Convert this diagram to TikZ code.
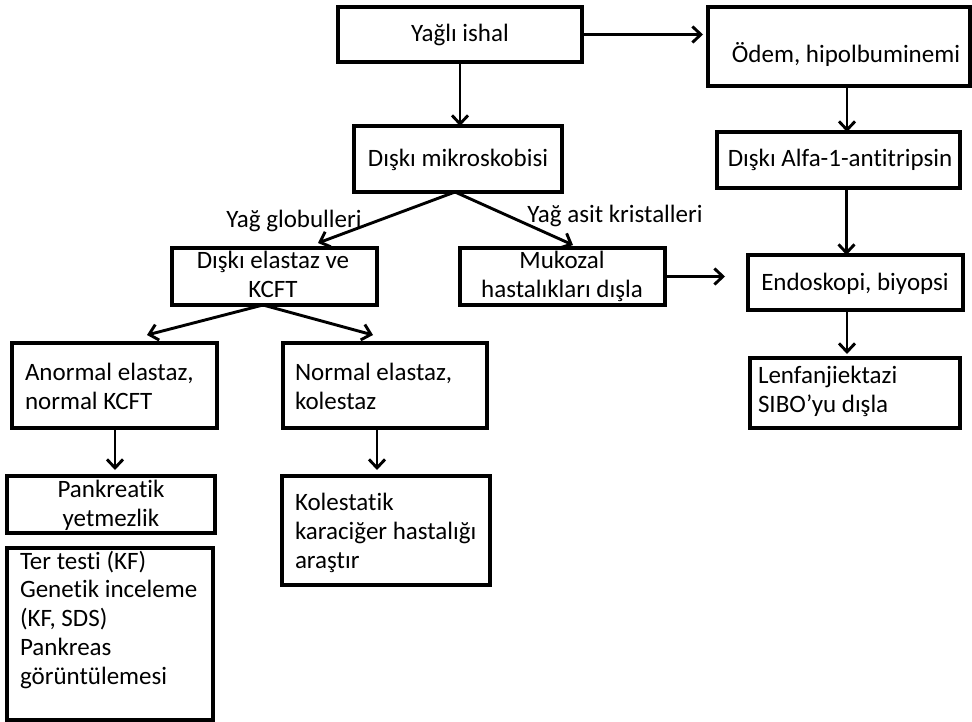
\documentclass[tikz,border=0pt]{standalone}
\usepackage{fontspec}
\setmainfont{Carlito}[Ligatures=NoCommon]
\usetikzlibrary{arrows.meta}
\begin{document}
\begin{tikzpicture}[x=1pt,y=-1pt,
  box/.style={draw, line width=3.2pt, inner sep=0pt, outer sep=0pt},
  txt/.style={inner sep=0pt, outer sep=0pt, font=\fontsize{25}{28.7}\selectfont},
  arr/.style={line width=2.9pt, -{Straight Barb[length=8.5pt,width=16pt]}},
]
\fill[white] (0,0) rectangle (972,722);
\useasboundingbox (0,0) rectangle (972,722);

% boxes
\node[box, minimum width=244, minimum height=55]  (ishal)   at (460,34.5)  {};
\node[box, minimum width=262, minimum height=79]  (odem)    at (839,46.5)  {};
\node[box, minimum width=208, minimum height=66]  (micro)   at (458,159)   {};
\node[box, minimum width=243, minimum height=56]  (alfa)    at (838.5,160) {};
\node[box, minimum width=205, minimum height=57]  (elastaz) at (274.5,276.5) {};
\node[box, minimum width=205, minimum height=57]  (mukozal) at (562.5,276.5) {};
\node[box, minimum width=215, minimum height=55]  (endo)    at (855.5,282.5) {};
\node[box, minimum width=210, minimum height=70]  (lenf)    at (855,393)   {};
\node[box, minimum width=205, minimum height=85]  (anormal) at (114.5,385.5) {};
\node[box, minimum width=204, minimum height=85]  (normal)  at (385,385.5) {};
\node[box, minimum width=208, minimum height=57]  (pank)    at (111,504.5) {};
\node[box, minimum width=206, minimum height=172] (ter)     at (110,634)   {};
\node[box, minimum width=208, minimum height=109] (kol)     at (386,530.5) {};

% texts (multi-line nodes are placed by the baseline of their last line)
\node[txt, anchor=base] (t-ishal) at (460,42) {Yağlı ishal};
\node[txt, anchor=base] (t-odem) at (846,63) {Ödem, hipolbuminemi};
\node[txt, anchor=base] (t-micro) at (458,167) {Dışkı mikroskobisi};
\node[txt, anchor=base] (t-alfa) at (840,167) {Dışkı Alfa-1-antitripsin};
\node[txt, anchor=base, align=center] (t-elastaz) at (273,297) {Dışkı elastaz ve\\KCFT};
\node[txt, anchor=base, align=center] (t-mukozal) at (562,297) {Mukozal\\hastalıkları dışla};
\node[txt, anchor=base] (t-endo) at (855,290) {Endoskopi, biyopsi};
\node[txt, anchor=base west, align=left] (t-lenf) at (758,412) {Lenfanjiektazi\\SIBO’yu dışla};
\node[txt, anchor=base west, align=left] (t-anormal) at (25,409) {Anormal elastaz,\\normal KCFT};
\node[txt, anchor=base west, align=left] (t-normal) at (295,409) {Normal elastaz,\\kolestaz};
\node[txt, anchor=base, align=center] (t-pank) at (111,526) {Pankreatik\\yetmezlik};
\node[txt, anchor=base west, align=left] (t-ter) at (20,684) {Ter testi (KF)\\Genetik inceleme\\(KF, SDS)\\Pankreas\\görüntülemesi};
\node[txt, anchor=base west, align=left] (t-kol) at (295,568) {Kolestatik\\karaciğer hastalığı\\araştır};

% branch labels
\node[txt, anchor=base] (l-glob) at (294,228) {Yağ globulleri};
\node[txt, anchor=base] (l-asit) at (615,223) {Yağ asit kristalleri};

% connectors
\draw[arr, shorten >=5pt] (ishal.east) -- (ishal.east -| odem.west);
\draw[arr] (ishal.south) -- (ishal.south |- micro.north);
\draw[arr] ([xshift=8pt]odem.south) -- ([xshift=8pt]odem.south |- alfa.north);
\draw[arr] ([xshift=8pt]alfa.south) -- ([xshift=8pt]alfa.south |- endo.north);
\draw[arr, shorten >=4pt] ([xshift=-8.5pt]endo.south) -- ([xshift=-8.5pt]endo.south |- lenf.north);
\draw[arr] ([xshift=-3pt]micro.south) -- ([xshift=43.5pt,yshift=5pt]elastaz.north);
\draw[arr] ([xshift=-3pt]micro.south) -- ([xshift=10.5pt,yshift=3pt]mukozal.north);
\draw[arr, shorten >=23pt] (mukozal.east) -- (mukozal.east -| endo.west);
\draw[arr] ([xshift=-11.5pt]elastaz.south) -- ([xshift=32.5pt,yshift=8pt]anormal.north);
\draw[arr] ([xshift=-11.5pt]elastaz.south) -- ([xshift=-12pt,yshift=8pt]normal.north);
\draw[arr, shorten >=6pt] ([xshift=0.5pt]anormal.south) -- ([xshift=0.5pt]anormal.south |- pank.north);
\draw[arr, shorten >=6pt] ([xshift=-8pt]normal.south) -- ([xshift=-8pt]normal.south |- kol.north);
\end{tikzpicture}
\end{document}
